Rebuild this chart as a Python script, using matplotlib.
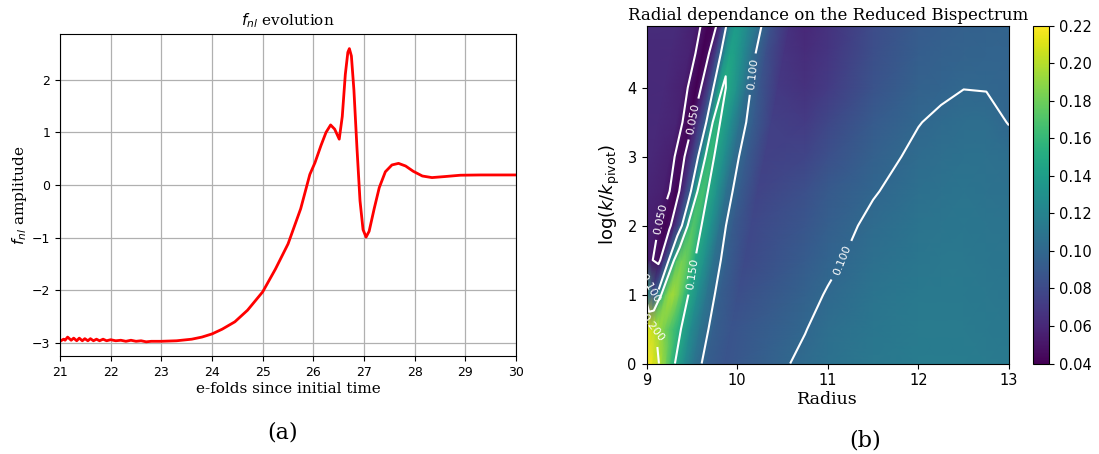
import numpy as np
import matplotlib

matplotlib.use("Agg")
import matplotlib.pyplot as plt


# ---- panel (a): f_nl evolution ----
EFOLDS = [
    21.0, 21.07, 21.1, 21.15, 21.22, 21.27, 21.33, 21.38, 21.44, 21.49,
    21.55, 21.6, 21.66, 21.72, 21.78, 21.85, 21.92, 22.0, 22.1, 22.2,
    22.3, 22.4, 22.5, 22.6, 22.7, 22.8, 23.0, 23.3, 23.6, 23.8,
    24.0, 24.2, 24.45, 24.7, 25.0, 25.25, 25.5, 25.75, 25.93, 26.03,
    26.15, 26.25, 26.34, 26.42, 26.51, 26.57, 26.63, 26.68, 26.71, 26.75,
    26.8, 26.86, 26.92, 26.98, 27.04, 27.1, 27.2, 27.3, 27.42, 27.55,
    27.68, 27.82, 27.97, 28.15, 28.34, 28.6, 28.9, 29.3, 30.0,
]
FNL = [
    -2.97, -2.93, -2.95, -2.89, -2.95, -2.91, -2.96, -2.91, -2.96, -2.92,
    -2.96, -2.92, -2.96, -2.93, -2.96, -2.93, -2.96, -2.94, -2.96, -2.95,
    -2.97, -2.95, -2.97, -2.96, -2.98, -2.97, -2.97, -2.96, -2.93, -2.89,
    -2.83, -2.74, -2.60, -2.38, -2.03, -1.60, -1.12, -0.45, 0.20, 0.42,
    0.75, 1.00, 1.14, 1.06, 0.87, 1.30, 2.10, 2.52, 2.59, 2.45,
    1.80, 0.70, -0.30, -0.85, -0.99, -0.88, -0.45, -0.05, 0.25, 0.38,
    0.41, 0.36, 0.26, 0.17, 0.14, 0.16, 0.185, 0.19, 0.19,
]

# ---- panel (b): reduced bispectrum vs radius and log(k/k_pivot) ----
LOGK = [0.0, 0.5, 1.0, 1.5, 2.0, 2.5, 3.0, 3.5, 4.0, 4.5, 4.9]
# the bright ridge runs diagonally, so the samples near it follow it:
# ridge position for each LOGK row, and sample offsets from the ridge
RIDGE_RADIUS = [9.22, 9.29, 9.365, 9.44, 9.51, 9.58, 9.66, 9.73, 9.80,
                9.87, 9.93]
RIDGE_OFFSETS = [-1.3, -0.6, -0.4, -0.3, -0.25, -0.2, -0.15, -0.1, -0.05,
                 0.0, 0.05, 0.1, 0.2, 0.3, 0.45, 0.65]
FAR_RADIUS = [10.75, 11.0, 11.5, 12.0, 12.25, 12.5, 12.75, 13.0]

# one row per LOGK value: values at the RIDGE_OFFSETS samples
RIDGE_VALUES = [
    [0.220, 0.220, 0.222, 0.222, 0.222, 0.220, 0.212, 0.203, 0.194, 0.180,
     0.163, 0.148, 0.127, 0.110, 0.093, 0.087],
    [0.215, 0.215, 0.214, 0.212, 0.208, 0.201, 0.193, 0.184, 0.175, 0.166,
     0.158, 0.148, 0.126, 0.110, 0.094, 0.087],
    [0.160, 0.160, 0.160, 0.088, 0.100, 0.152, 0.182, 0.194, 0.192, 0.180,
     0.165, 0.149, 0.128, 0.110, 0.093, 0.083],
    [0.066, 0.064, 0.052, 0.045, 0.068, 0.095, 0.142, 0.172, 0.182, 0.178,
     0.166, 0.148, 0.130, 0.108, 0.093, 0.080],
    [0.058, 0.057, 0.053, 0.040, 0.048, 0.062, 0.082, 0.112, 0.155, 0.172,
     0.164, 0.149, 0.131, 0.108, 0.090, 0.079],
    [0.060, 0.059, 0.056, 0.048, 0.040, 0.056, 0.072, 0.093, 0.128, 0.162,
     0.167, 0.149, 0.130, 0.107, 0.092, 0.076],
    [0.061, 0.060, 0.056, 0.044, 0.048, 0.059, 0.075, 0.094, 0.127, 0.156,
     0.161, 0.146, 0.128, 0.106, 0.091, 0.075],
    [0.062, 0.061, 0.058, 0.046, 0.040, 0.056, 0.070, 0.086, 0.110, 0.150,
     0.157, 0.146, 0.128, 0.107, 0.092, 0.074],
    [0.062, 0.061, 0.056, 0.045, 0.040, 0.050, 0.062, 0.081, 0.106, 0.142,
     0.153, 0.147, 0.130, 0.106, 0.088, 0.070],
    [0.062, 0.061, 0.057, 0.047, 0.041, 0.045, 0.058, 0.076, 0.100, 0.132,
     0.144, 0.141, 0.125, 0.105, 0.083, 0.067],
    [0.063, 0.062, 0.056, 0.047, 0.041, 0.042, 0.052, 0.071, 0.100, 0.127,
     0.138, 0.136, 0.122, 0.106, 0.083, 0.065],
]
# one row per LOGK value: values at the FAR_RADIUS samples
FAR_VALUES = [
    [0.103, 0.107, 0.112, 0.115, 0.115, 0.115, 0.114, 0.113],
    [0.0995, 0.105, 0.111, 0.114, 0.114, 0.114, 0.113, 0.112],
    [0.096, 0.101, 0.109, 0.113, 0.113, 0.113, 0.112, 0.111],
    [0.092, 0.097, 0.106, 0.111, 0.112, 0.112, 0.111, 0.110],
    [0.088, 0.094, 0.103, 0.109, 0.110, 0.111, 0.110, 0.109],
    [0.084, 0.090, 0.099, 0.106, 0.108, 0.109, 0.108, 0.107],
    [0.077, 0.084, 0.095, 0.103, 0.105, 0.107, 0.1065, 0.105],
    [0.071, 0.078, 0.091, 0.0995, 0.1025, 0.104, 0.104, 0.0995],
    [0.066, 0.071, 0.086, 0.096, 0.0975, 0.0998, 0.0995, 0.098],
    [0.063, 0.068, 0.083, 0.093, 0.095, 0.0965, 0.097, 0.097],
    [0.060, 0.066, 0.081, 0.091, 0.093, 0.095, 0.096, 0.097],
]

CONTOUR_LEVELS = [0.05, 0.10, 0.15, 0.20]
CBAR_TICKS = [0.04, 0.06, 0.08, 0.10, 0.12, 0.14, 0.16, 0.18, 0.20, 0.22]
LABEL_SPOTS = [(9.5, 3.55), (9.12, 2.1), (10.15, 4.2), (11.15, 1.5),
               (9.05, 1.1), (9.5, 1.3), (9.08, 0.55)]

SERIF = "DejaVu Serif"


def main():
    fig = plt.figure(figsize=(10.99, 4.54), dpi=100)

    # (a) line plot
    ax1 = fig.add_axes([0.0546, 0.2148, 0.415, 0.7104])
    ax1.plot(EFOLDS, FNL, color="red", linewidth=2)
    ax1.set_xlim(21, 30)
    ax1.set_xticks(range(21, 31))
    ax1.set_yticks([-3, -2, -1, 0, 1, 2])
    ax1.grid(True, color="#b0b0b0", linewidth=0.9)
    ax1.set_axisbelow(True)
    ax1.tick_params(labelsize=9)
    ax1.set_title(r"$f_{nl}$ evolution", fontsize=11, family=SERIF)
    ax1.set_xlabel("e-folds since initial time", fontsize=11,
                   family=SERIF, labelpad=2)
    ax1.set_ylabel(r"$f_{nl}$ amplitude", fontsize=11, family=SERIF,
                   labelpad=2)

    # (b) heat map with contours
    ax2 = fig.add_axes([0.5883, 0.1993, 0.3298, 0.744])
    rows_x = []
    for ridge in RIDGE_RADIUS:
        near = [ridge + off for off in RIDGE_OFFSETS]
        rows_x.append(near + FAR_RADIUS)
    X = np.array(rows_x)
    Y = np.repeat(np.array(LOGK)[:, None], X.shape[1], axis=1)
    Z = np.hstack([np.array(RIDGE_VALUES), np.array(FAR_VALUES)])

    mesh = ax2.pcolormesh(X, Y, Z, cmap="viridis", shading="gouraud",
                          vmin=0.04, vmax=0.22)
    cs = ax2.contour(X, Y, Z, levels=CONTOUR_LEVELS, colors="white",
                     linewidths=1.5)
    ax2.clabel(cs, fmt="%.3f", fontsize=8, inline=True,
               manual=LABEL_SPOTS)
    ax2.set_xlim(9, 13)
    ax2.set_ylim(0, 4.9)
    ax2.set_xticks([9, 10, 11, 12, 13])
    ax2.set_yticks([0, 1, 2, 3, 4])
    ax2.tick_params(labelsize=10.5)
    ax2.set_title("Radial dependance on the Reduced Bispectrum",
                  fontsize=12, family=SERIF, pad=4)
    ax2.set_xlabel("Radius", fontsize=12.5, family=SERIF, labelpad=2)
    ax2.set_ylabel(r"log($k/k_{\rm pivot}$)", fontsize=13)

    cax = fig.add_axes([0.9397, 0.1993, 0.0151, 0.744])
    cbar = fig.colorbar(mesh, cax=cax, ticks=CBAR_TICKS)
    cbar.ax.set_yticklabels([f"{t:.2f}" for t in CBAR_TICKS])
    cbar.ax.tick_params(labelsize=10.5)

    fig.text(283 / 1099, 1 - 432 / 454, "(a)", fontsize=16, family=SERIF,
             ha="center", va="center")
    fig.text(865 / 1099, 1 - 440 / 454, "(b)", fontsize=16, family=SERIF,
             ha="center", va="center")

    fig.savefig("out.png", dpi=100)
    plt.close(fig)


if __name__ == "__main__":
    main()
